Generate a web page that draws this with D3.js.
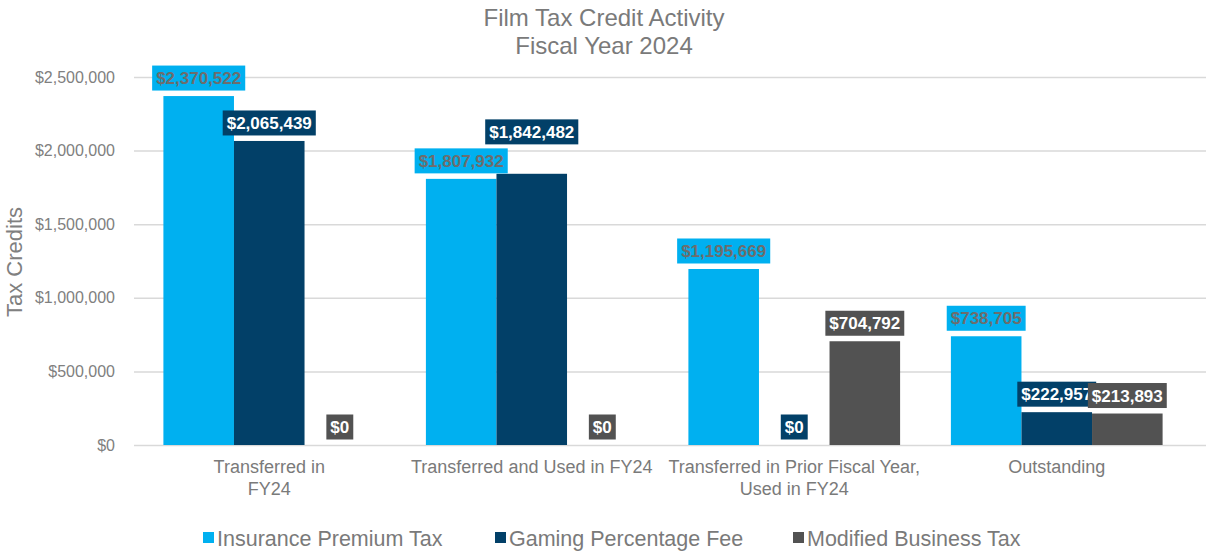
<!DOCTYPE html>
<html>
<head>
<meta charset="utf-8">
<script src="https://cdn.jsdelivr.net/npm/d3@7"></script>
<style>
  body { margin: 0; background: #fff; }
  text { font-family: "Liberation Sans", Arial, sans-serif; }
</style>
</head>
<body>
<script>
let categories = [['Transferred in', 'FY24'], ['Transferred and Used in FY24'], ['Transferred in Prior Fiscal Year,', 'Used in FY24'], ['Outstanding']]
let seriesNames = ['Insurance Premium Tax', 'Gaming Percentage Fee', 'Modified Business Tax']
let insurance = [2370522, 1807932, 1195669, 738705]
let gaming = [2065439, 1842482, 0, 222957]
let modified = [0, 0, 704792, 213893]
let yTicks = [0, 500000, 1000000, 1500000, 2000000, 2500000]
let colors = ['#00b0f0', '#024068', '#525252']
let labelColors = ['#6d6d6d', '#ffffff', '#ffffff']

let width = 1209
let height = 552
let series = [insurance, gaming, modified]
let fmt = d => '$' + d3.format(',')(d)

let svg = d3.select('body').append('svg')
  .attr('width', width)
  .attr('height', height)

let scaleY = d3.scaleLinear().domain([0, 2500000]).range([445, 77])
let scaleX = d3.scaleBand().domain(d3.range(categories.length)).range([138, 1188])
let scaleS = d3.scaleBand().domain(d3.range(series.length)).range([0, scaleX.bandwidth()]).paddingOuter(0.36)

// title
svg.append('text').attr('x', 604).attr('y', 26).attr('text-anchor', 'middle')
  .attr('font-size', 24).attr('fill', '#7a7a7a').text('Film Tax Credit Activity')
svg.append('text').attr('x', 604).attr('y', 54).attr('text-anchor', 'middle')
  .attr('font-size', 24).attr('fill', '#7a7a7a').text('Fiscal Year 2024')

// gridlines + y axis
let yAxis = svg.append('g').attr('transform', 'translate(134,0)')
  .call(d3.axisLeft(scaleY).tickValues(yTicks).tickSize(-1072).tickPadding(19).tickFormat(fmt))
yAxis.select('.domain').remove()
yAxis.selectAll('line').attr('stroke', '#d9d9d9').attr('stroke-width', 1.5)
yAxis.selectAll('text').attr('font-size', 16).attr('fill', '#808080')
  .attr('font-family', '"Liberation Sans", Arial, sans-serif')

svg.append('text').attr('transform', 'translate(22,262) rotate(-90)')
  .attr('text-anchor', 'middle').attr('font-size', 22).attr('fill', '#808080').text('Tax Credits')

// bars
let groups = svg.selectAll('g.cat').data(categories).enter().append('g')
  .attr('class', 'cat')
  .attr('transform', (d, i) => 'translate(' + scaleX(i) + ',0)')

series.forEach((vals, s) => {
  groups.append('rect')
    .attr('x', scaleS(s))
    .attr('width', scaleS.bandwidth())
    .attr('y', (d, i) => scaleY(vals[i]))
    .attr('height', (d, i) => 445 - scaleY(vals[i]))
    .attr('fill', colors[s])
})

// data labels, pushed up when they collide with the label before them
let boxH = 25
groups.each(function (d, i) {
  let g = d3.select(this)
  let placed = []
  series.forEach((vals, s) => {
    let cx = scaleS(s) + scaleS.bandwidth() / 2
    let lab = g.append('g')
    let t = lab.append('text').attr('x', cx).attr('y', 0)
      .attr('text-anchor', 'middle').attr('font-size', 17).attr('font-weight', 'bold')
      .attr('fill', labelColors[s]).text(fmt(vals[i]))
    let w = t.node().getBBox().width + 8
    let x0 = cx - w / 2
    let bottom = scaleY(vals[i]) - 5.5
    placed.forEach(p => {
      let overlapX = Math.min(x0 + w, p.x1) - Math.max(x0, p.x0)
      if (overlapX > 12 && bottom > p.top && bottom - boxH < p.bottom) bottom = p.top - 4
    })
    placed.push({x0: x0, x1: x0 + w, top: bottom - boxH, bottom: bottom})
    t.attr('y', bottom - 6.5)
    lab.insert('rect', 'text')
      .attr('x', x0).attr('y', bottom - boxH)
      .attr('width', w).attr('height', boxH)
      .attr('fill', colors[s])
  })
})

// x labels
groups.each(function (d, i) {
  let t = d3.select(this).append('text')
    .attr('x', scaleX.bandwidth() / 2).attr('y', 473)
    .attr('text-anchor', 'middle').attr('font-size', 18).attr('fill', '#7a7a7a')
  d.forEach((line, k) => {
    t.append('tspan').attr('x', scaleX.bandwidth() / 2).attr('dy', k === 0 ? 0 : 22).text(line)
  })
})

// legend
let legendX = [203, 495, 793]
let legend = svg.selectAll('g.leg').data(seriesNames).enter().append('g')
  .attr('class', 'leg')
  .attr('transform', (d, i) => 'translate(' + legendX[i] + ',538)')
legend.append('rect').attr('x', 0).attr('y', -6).attr('width', 11).attr('height', 11)
  .attr('fill', (d, i) => colors[i])
legend.append('text').attr('x', 14).attr('y', 8).attr('font-size', 21.5).attr('fill', '#7a7a7a').text(d => d)
</script>
</body>
</html>
